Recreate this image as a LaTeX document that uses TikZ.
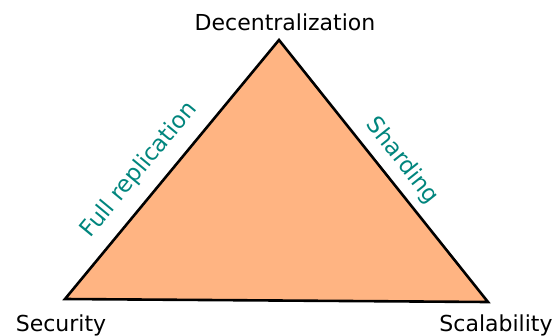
\documentclass[tikz,border=0pt]{standalone}
\usepackage{fontspec}
\setmainfont{DejaVu Sans}
\definecolor{tri}{HTML}{FFB482}
\definecolor{lab}{RGB}{0,133,125}
\begin{document}
\begin{tikzpicture}[x=1pt,y=-1pt,
  vtx/.style={font=\fontsize{22}{22}\selectfont,inner sep=0pt,text=black},
  edgelab/.style={font=\fontsize{23}{23}\selectfont,inner sep=0pt,text=lab}]
\useasboundingbox (0,0) rectangle (559,335);
\coordinate (T) at (279,40);
\coordinate (L) at (65,299);
\coordinate (R) at (488,302);
\filldraw[fill=tri,draw=black,line width=2.6pt,line join=miter] (T) -- (R) -- (L) -- cycle;
\node[vtx,anchor=base] (dec) at (285,30) {Decentralization};
\node[vtx,anchor=base] (sec) at (61,331) {Security};
\node[vtx,anchor=base] (sca) at (496,331) {Scalability};
\node[edgelab,rotate=50.4] (full) at (139,170) {Full replication};
\node[edgelab,rotate=-51.4] (shard) at (402,161) {Sharding};
\end{tikzpicture}
\end{document}
